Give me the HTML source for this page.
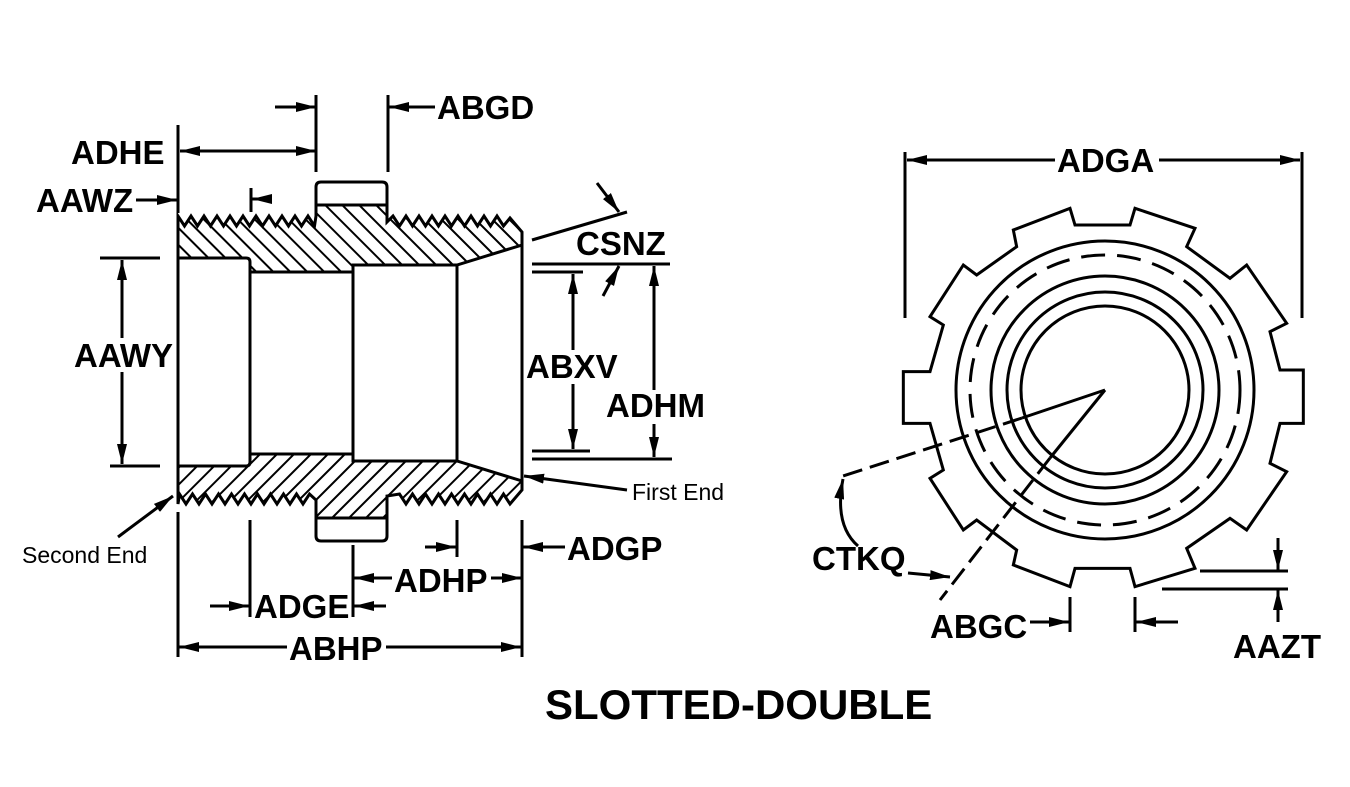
<!DOCTYPE html>
<html><head><meta charset="utf-8"><style>
html,body{margin:0;padding:0;background:#fff}
svg{display:block}
text{font-family:"Liberation Sans",Arial,sans-serif;font-weight:bold;fill:#000}
</style></head><body>
<svg width="1350" height="787" viewBox="0 0 1350 787" xmlns="http://www.w3.org/2000/svg">
<defs>
<marker id="a" viewBox="0 0 20 10" refX="20" refY="5" markerWidth="20" markerHeight="10" markerUnits="userSpaceOnUse" orient="auto-start-reverse"><path d="M0,0 L20,5 L0,10 z" fill="#000"/></marker>
<pattern id="hb" patternUnits="userSpaceOnUse" width="12" height="12" patternTransform="rotate(-45)"><line x1="0" y1="0" x2="0" y2="12" stroke="#000" stroke-width="4"/></pattern>
<pattern id="hf" patternUnits="userSpaceOnUse" width="12" height="12" patternTransform="rotate(45)"><line x1="0" y1="0" x2="0" y2="12" stroke="#000" stroke-width="4"/></pattern>
</defs>
<g stroke="#000" stroke-width="3" fill="none">
<path fill="url(#hb)" d="M178,228 L178,216 l6.5,10 l6.5,-10 l6.5,10 l6.5,-10 l6.5,10 l6.5,-10 l6.5,10 l6.5,-10 l6.5,10 l6.5,-10 l6.5,10 l6.5,-10 l6.5,10 l6.5,-10 l6.5,10 l6.5,-10 l6.5,10 l6.5,-10 l6.5,10 l6.5,-10 l6.5,10 L316,216 L316,205 L387,205 L387,222 l6,-6 l6.5,10 l6.5,-10 l6.5,10 l6.5,-10 l6.5,10 l6.5,-10 l6.5,10 l6.5,-10 l6.5,10 l6.5,-10 l6.5,10 l6.5,-10 l6.5,10 l6.5,-10 l6.5,10 l6.5,-10 l6.5,10 L510,218 L522,232 L522,245 L457,265 L353,265 L353,272 L250,272 L250,262 Q250,258 246,258 L178,258 Z"/>
<path d="M316,205 L316,187 Q316,182 321,182 L382,182 Q387,182 387,187 L387,205"/>
<path fill="url(#hf)" d="M178,466 L246,466 Q250,466 250,462 L250,454 L353,454 L353,461 L457,461 L522,481 L522,490 L510,504 l-6.5,-10 l-6.5,10 l-6.5,-10 l-6.5,10 l-6.5,-10 l-6.5,10 l-6.5,-10 l-6.5,10 l-6.5,-10 l-6.5,10 l-6.5,-10 l-6.5,10 l-6.5,-10 l-6.5,10 l-6.5,-10 l-6.5,10 l-6.5,-10 L387,496 L387,518 L316,518 L316,500 l-6.5,-6 l-6.5,10 l-6.5,-10 l-6.5,10 l-6.5,-10 l-6.5,10 l-6.5,-10 l-6.5,10 l-6.5,-10 l-6.5,10 l-6.5,-10 l-6.5,10 l-6.5,-10 l-6.5,10 l-6.5,-10 l-6.5,10 l-6.5,-10 l-6.5,10 l-6.5,-10 l-6.5,10 l-6.5,-10 L178,504 Z"/>
<path d="M316,518 L316,536 Q316,541 321,541 L382,541 Q387,541 387,536 L387,518"/>
<line x1="178" y1="258" x2="178" y2="466"/>
<line x1="250" y1="262" x2="250" y2="462"/>
<line x1="353" y1="265" x2="353" y2="461"/>
<line x1="457" y1="265" x2="457" y2="461"/>
<line x1="522" y1="232" x2="522" y2="490"/>
<line x1="178" y1="125" x2="178" y2="213"/>
<line x1="316" y1="95" x2="316" y2="172"/>
<line x1="388" y1="95" x2="388" y2="172"/>
<line x1="251" y1="188" x2="251" y2="212"/>
<line x1="100" y1="258" x2="160" y2="258"/>
<line x1="110" y1="466" x2="160" y2="466"/>
<line x1="532" y1="264" x2="670" y2="264"/>
<line x1="532" y1="272" x2="583" y2="272"/>
<line x1="532" y1="451" x2="590" y2="451"/>
<line x1="532" y1="459" x2="672" y2="459"/>
<line x1="178" y1="512" x2="178" y2="657"/>
<line x1="250" y1="520" x2="250" y2="617"/>
<line x1="353" y1="545" x2="353" y2="617"/>
<line x1="457" y1="520" x2="457" y2="557"/>
<line x1="522" y1="520" x2="522" y2="657"/>
<line x1="180" y1="151" x2="316" y2="151" marker-start="url(#a)" marker-end="url(#a)"/>
<line x1="275" y1="107" x2="316" y2="107" marker-end="url(#a)"/>
<line x1="435" y1="107" x2="389" y2="107" marker-end="url(#a)"/>
<line x1="136" y1="200" x2="177" y2="200" marker-end="url(#a)"/>
<line x1="272" y1="199" x2="252" y2="199" marker-end="url(#a)"/>
<line x1="532" y1="240" x2="627" y2="212"/>
<line x1="597" y1="183" x2="619" y2="212" marker-end="url(#a)"/>
<line x1="603" y1="296" x2="619" y2="266" marker-end="url(#a)"/>
<line x1="122" y1="260" x2="122" y2="464" marker-start="url(#a)" marker-end="url(#a)"/>
<line x1="573" y1="274" x2="573" y2="449" marker-start="url(#a)" marker-end="url(#a)"/>
<line x1="654" y1="266" x2="654" y2="457" marker-start="url(#a)" marker-end="url(#a)"/>
<line x1="118" y1="537" x2="173" y2="496" marker-end="url(#a)"/>
<line x1="627" y1="490" x2="524" y2="476" marker-end="url(#a)"/>
<line x1="425" y1="547" x2="456" y2="547" marker-end="url(#a)"/>
<line x1="565" y1="547" x2="523" y2="547" marker-end="url(#a)"/>
<line x1="354" y1="578" x2="522" y2="578" marker-start="url(#a)" marker-end="url(#a)"/>
<line x1="210" y1="606" x2="249" y2="606" marker-end="url(#a)"/>
<line x1="386" y1="606" x2="354" y2="606" marker-end="url(#a)"/>
<line x1="179" y1="647" x2="521" y2="647" marker-start="url(#a)" marker-end="url(#a)"/>
<g transform="translate(890,190) scale(0.33333)" stroke-width="9">
<polygon points="540,55 555,105 720,105 735,55 915,115 890,170 1020,265 1070,225 1190,400 1140,425 1170,540 1240,540 1240,700 1170,700 1140,820 1190,845 1070,1020 1020,985 890,1075 915,1135 735,1190 720,1135 555,1135 540,1190 370,1125 380,1080 260,990 220,1020 120,865 160,840 120,700 40,700 40,545 120,545 160,405 120,380 220,225 260,255 380,170 370,120"/>
</g>
<circle cx="1105" cy="390" r="149"/>
<circle cx="1105" cy="390" r="135" stroke-dasharray="24,12"/>
<circle cx="1105" cy="390" r="114"/>
<circle cx="1105" cy="390" r="98"/>
<circle cx="1105" cy="390" r="84"/>
<line x1="905" y1="152" x2="905" y2="318"/>
<line x1="1302" y1="152" x2="1302" y2="318"/>
<line x1="907" y1="160" x2="1300" y2="160" marker-start="url(#a)" marker-end="url(#a)"/>
<line x1="1105" y1="390" x2="1022" y2="418"/>
<line x1="1022" y1="418" x2="843" y2="476" stroke-dasharray="20,8"/>
<line x1="1105" y1="390" x2="1050" y2="458"/>
<line x1="1050" y1="458" x2="940" y2="600" stroke-dasharray="20,8"/>
<path d="M858,546 Q834,525 843,479" marker-end="url(#a)"/>
<line x1="908" y1="573" x2="950" y2="577" marker-end="url(#a)"/>
<line x1="1070" y1="597" x2="1070" y2="632"/>
<line x1="1135" y1="597" x2="1135" y2="632"/>
<line x1="1030" y1="622" x2="1069" y2="622" marker-end="url(#a)"/>
<line x1="1178" y1="622" x2="1136" y2="622" marker-end="url(#a)"/>
<line x1="1200" y1="571" x2="1288" y2="571"/>
<line x1="1162" y1="589" x2="1288" y2="589"/>
<line x1="1278" y1="538" x2="1278" y2="570" marker-end="url(#a)"/>
<line x1="1278" y1="622" x2="1278" y2="590" marker-end="url(#a)"/>
</g>
<g fill="#fff">
<rect x="68" y="338" width="108" height="34"/>
<rect x="603" y="390" width="104" height="34"/>
<rect x="525" y="350" width="94" height="34"/>
<rect x="1055" y="144" width="104" height="32"/>
<rect x="392" y="563" width="99" height="32"/>
<rect x="253" y="591" width="98" height="32"/>
<rect x="287" y="632" width="99" height="32"/>
</g>
<g font-size="33">
<text x="71" y="164">ADHE</text>
<text x="36" y="212">AAWZ</text>
<text x="437" y="119">ABGD</text>
<text x="576" y="255">CSNZ</text>
<text x="74" y="367">AAWY</text>
<text x="526" y="378">ABXV</text>
<text x="606" y="417">ADHM</text>
<text x="567" y="560">ADGP</text>
<text x="394" y="592">ADHP</text>
<text x="254" y="618">ADGE</text>
<text x="289" y="660">ABHP</text>
<text x="1057" y="172">ADGA</text>
<text x="812" y="570">CTKQ</text>
<text x="930" y="638">ABGC</text>
<text x="1233" y="658">AAZT</text>
<text x="545" y="719" font-size="42">SLOTTED-DOUBLE</text>
</g>
<g font-size="23">
<text x="22" y="563" style="font-weight:normal">Second End</text>
<text x="632" y="500" style="font-weight:normal">First End</text>
</g>
</svg>
</body></html>
